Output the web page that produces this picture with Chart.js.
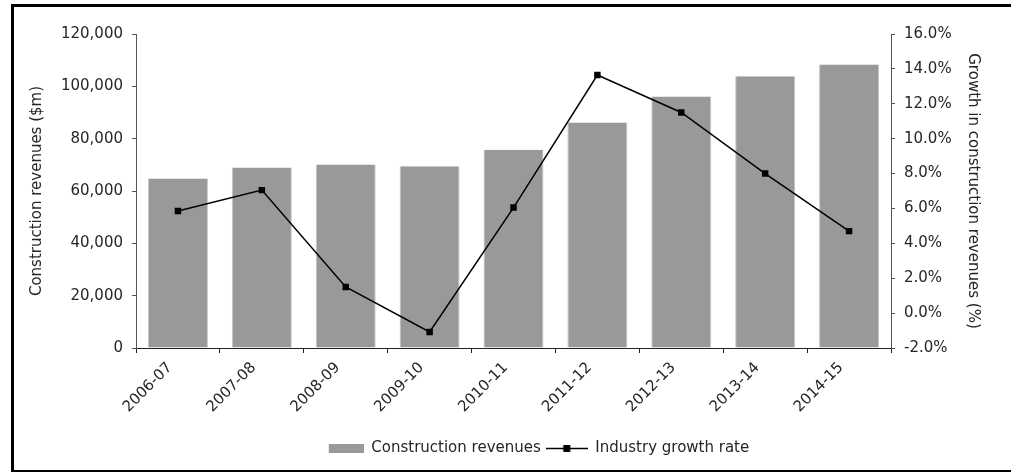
<!DOCTYPE html>
<html lang="en">
<head>
<meta charset="UTF-8">
<title>Construction revenues and growth</title>
<script src="https://cdn.jsdelivr.net/npm/chart.js"></script>
<style>
    html, body { margin: 0; padding: 0; background: #fff; }
    #wrap { width: 1011px; height: 473px; }
</style>
</head>
<body>
<div id="wrap"><canvas id="revenueChart" width="1011" height="473"></canvas></div>

<script>
    // chart data
    const years = ['2006-07', '2007-08', '2008-09', '2009-10', '2010-11', '2011-12', '2012-13', '2013-14', '2014-15'];
    const revenues = [64800, 69000, 70100, 69500, 75800, 86200, 96100, 103900, 108300];
    const growthRates = [5.85, 7.05, 1.5, -1.08, 6.05, 13.65, 11.5, 8.0, 4.7];
    const revenueTicks = [0, 20000, 40000, 60000, 80000, 100000, 120000];
    const growthTicks = [-2, 0, 2, 4, 6, 8, 10, 12, 14, 16];

    const textColor = '#262626';
    const font = { family: 'DejaVu Sans', size: 15 };

    // small canvases used as legend markers
    function makeSwatch(w, h, paint) {
        const c = document.createElement('canvas');
        c.width = w;
        c.height = h;
        paint(c.getContext('2d'));
        return c;
    }
    const barSwatch = makeSwatch(42, 9, ctx => {
        ctx.fillStyle = '#999999';
        ctx.fillRect(7, 0, 35, 9);
    });
    const lineSwatch = makeSwatch(42, 7, ctx => {
        ctx.strokeStyle = '#000';
        ctx.lineWidth = 1.5;
        ctx.beginPath();
        ctx.moveTo(0, 3.5);
        ctx.lineTo(42, 3.5);
        ctx.stroke();
        ctx.fillStyle = '#000';
        ctx.fillRect(17.5, 0, 7, 7);
    });

    // outer frame + legend nudge
    const framePlugin = {
        id: 'frame',
        afterLayout(chart) {
            chart.legend.left += 30;
            chart.legend.right += 30;
        },
        afterDraw(chart) {
            const ctx = chart.ctx;
            ctx.save();
            ctx.fillStyle = '#000';
            ctx.fillRect(11, 4, 1000, 3);
            ctx.fillRect(11, 4, 3, 468);
            ctx.fillRect(11, 470, 1000, 2);
            ctx.restore();
        }
    };

    const ctx = document.getElementById('revenueChart').getContext('2d');
    const revenueChart = new Chart(ctx, {
        data: {
            labels: years,
            datasets: [
                {
                    type: 'line',
                    label: 'Industry growth rate',
                    data: growthRates,
                    yAxisID: 'y1',
                    borderColor: '#000',
                    borderWidth: 1.5,
                    pointStyle: 'rect',
                    pointRadius: 3.5,
                    pointBackgroundColor: '#000',
                    pointBorderColor: '#000',
                    tension: 0,
                    order: 1
                },
                {
                    type: 'bar',
                    label: 'Construction revenues',
                    data: revenues,
                    yAxisID: 'y',
                    backgroundColor: '#999999',
                    borderColor: '#c4c4c4',
                    borderWidth: { left: 1, right: 1, top: 0, bottom: 0 },
                    barPercentage: 0.715,
                    categoryPercentage: 1,
                    order: 2
                }
            ]
        },
        options: {
            responsive: false,
            animation: false,
            layout: { padding: { left: 0, right: 0, top: 34, bottom: 7 } },
            plugins: {
                tooltip: { enabled: false },
                legend: {
                    position: 'bottom',
                    reverse: true,
                    labels: {
                        color: textColor,
                        font: font,
                        usePointStyle: true,
                        pointStyleWidth: 42,
                        padding: 5,
                        generateLabels(chart) {
                            const items = Chart.defaults.plugins.legend.labels.generateLabels(chart);
                            items.forEach(item => {
                                item.pointStyle = item.datasetIndex === 1 ? barSwatch : lineSwatch;
                            });
                            return items;
                        }
                    }
                }
            },
            scales: {
                x: {
                    offset: true,
                    grid: { drawOnChartArea: false, offset: true, tickLength: 5, tickColor: '#222' },
                    border: { color: '#222' },
                    ticks: { color: textColor, font: font, minRotation: 45, maxRotation: 45, autoSkip: false, padding: 6, labelOffset: -8 },
                    afterFit(scale) { scale.height = 88; }
                },
                y: {
                    position: 'left',
                    min: revenueTicks[0],
                    max: revenueTicks[revenueTicks.length - 1],
                    afterBuildTicks(scale) { scale.ticks = revenueTicks.map(v => ({ value: v })); },
                    grid: { drawOnChartArea: false, tickLength: 4, tickColor: '#555' },
                    border: { color: '#555' },
                    ticks: {
                        color: textColor, font: font, padding: 9,
                        callback: v => v.toLocaleString('en-US')
                    },
                    title: {
                        display: true, text: 'Construction revenues ($m)',
                        color: textColor, font: font, padding: { top: 28 }
                    },
                    afterFit(scale) { scale.width = 136; }
                },
                y1: {
                    position: 'right',
                    min: growthTicks[0],
                    max: growthTicks[growthTicks.length - 1],
                    afterBuildTicks(scale) { scale.ticks = growthTicks.map(v => ({ value: v })); },
                    grid: { drawOnChartArea: false, tickLength: 4, tickColor: '#555' },
                    border: { color: '#555' },
                    ticks: {
                        color: textColor, font: font, padding: 9,
                        callback: v => v.toFixed(1) + '%'
                    },
                    title: {
                        display: true, text: 'Growth in construction revenues (%)',
                        color: textColor, font: font, padding: { top: 29 }
                    },
                    afterFit(scale) { scale.width = 120; }
                }
            }
        },
        plugins: [framePlugin]
    });
</script>
</body>
</html>
